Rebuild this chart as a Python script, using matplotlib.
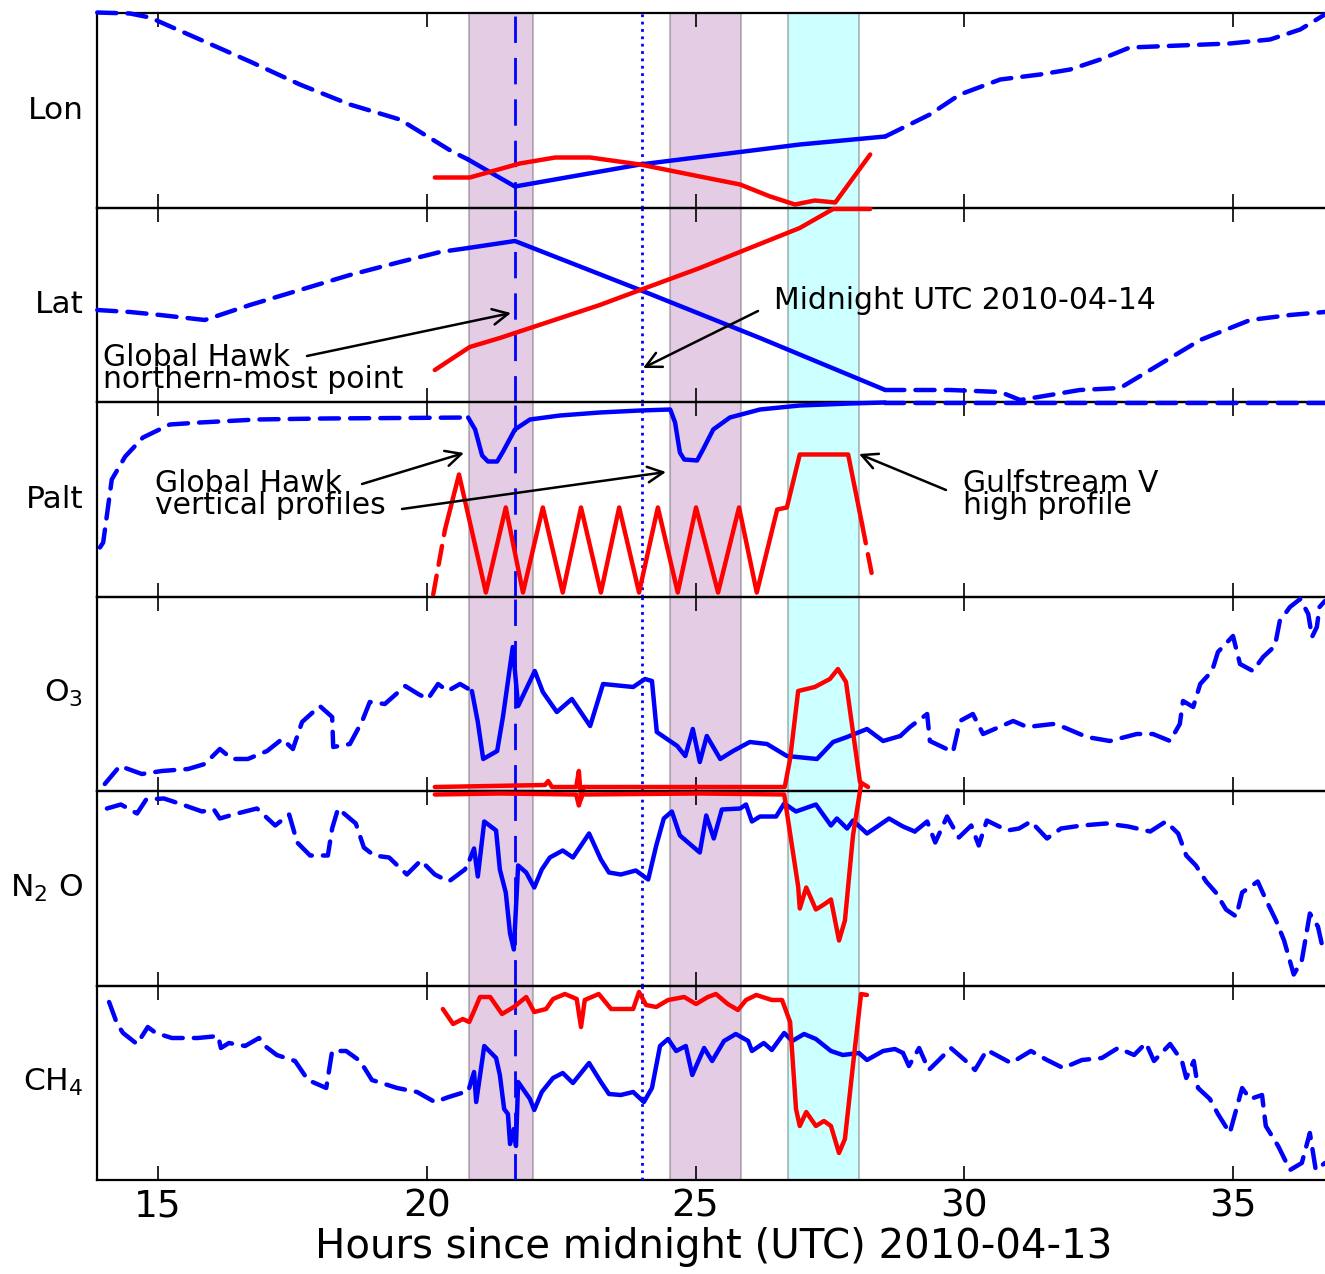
import matplotlib
matplotlib.use('Agg')
import matplotlib.pyplot as plt
import numpy as np

# ---------------- data (hours since midnight 2010-04-13, relative panel units 0..194) -------------
hour_ticks = [15, 20, 25, 30, 35]
panel_labels = ['Lon', 'Lat', 'Palt', 'O$_3$', 'N$_2$ O', 'CH$_4$']
x_label = 'Hours since midnight (UTC) 2010-04-13'

# Lon
lon_gh_t = [13.87, 14.48, 14.85, 15.78, 16.71, 17.64, 18.57, 19.50, 20.47, 20.77,
            21.64, 23.97, 26.20, 26.94, 28.53,
            29.36, 29.92, 30.67, 31.41, 31.97, 32.53, 33.08, 34.01, 34.94, 35.69, 36.25, 36.71]
lon_gh_v = [195, 194, 190, 168, 146, 123, 103, 88, 56, 48,
            21, 43, 58, 63, 71,
            93, 113, 128, 133, 138, 148, 160, 162, 164, 168, 178, 193]
lon_gv_t = [20.15, 20.80, 21.73, 22.39, 23.04, 23.97, 25.08, 25.83, 26.39, 26.85, 27.22, 27.60, 28.25]
lon_gv_v = [30, 30, 44, 50, 50, 43, 31, 23, 11, 3, 7, 5, 53]

# Lat
lat_gh_t = [13.87, 14.48, 15.04, 15.87, 16.71, 17.64, 18.57, 19.50, 20.25, 20.77,
            21.64, 23.97, 26.20, 28.53,
            29.74, 30.67, 31.04, 31.60, 32.15, 32.90, 33.46, 34.39, 35.32, 36.06, 36.71]
lat_gh_v = [92, 90, 87, 82, 97, 112, 127, 140, 150, 154,
            161, 112, 64, 12,
            12, 10, 2, 7, 12, 14, 32, 62, 82, 87, 90]
lat_gv_t = [20.15, 20.80, 21.36, 23.22, 23.97, 25.08, 26.01, 26.94, 27.56, 28.25]
lat_gv_v = [32, 55, 64, 97, 112, 134, 154, 174, 193, 193]

# Palt
palt_gh_t = [13.92, 13.98, 14.14, 14.39, 14.72, 15.22, 15.78, 16.84, 18.07, 19.50, 20.77,
             20.90, 21.03, 21.14, 21.31, 21.42, 21.64, 21.92, 22.48, 23.22, 23.97, 24.53,
             24.62, 24.71, 24.79, 25.03, 25.14, 25.33, 25.64, 26.20, 26.94, 27.87, 28.53, 36.71]
palt_gh_v = [49, 54, 117, 140, 159, 172, 174, 177, 178, 178.5, 179,
             167, 141, 135, 135, 145, 167, 177, 181, 184, 186, 187,
             174, 144, 137, 136, 147, 167, 179, 187, 191, 193, 194, 194]
palt_gv_t = [20.12, 20.34, 20.60, 21.10, 21.47, 21.79, 22.16, 22.53, 22.87, 23.24, 23.58,
             23.95, 24.30, 24.67, 25.01, 25.42, 25.81, 26.14, 26.52, 26.70, 26.94, 27.84,
             28.10, 28.30]
palt_gv_v = [2, 67, 122, 4, 89, 4, 89, 4, 89, 4, 89,
             4, 89, 4, 89, 4, 89, 4, 87, 89, 142, 142,
             72, 17]

# O3
o3_gh_t = [14.01, 14.29, 14.70, 15.07, 15.56, 15.87, 16.15, 16.38, 16.67, 17.03, 17.31, 17.51,
           17.68, 18.01, 18.24, 18.26, 18.57, 18.80, 18.94, 19.22, 19.60, 19.84, 20.02, 20.21,
           20.39, 20.62, 20.84,
           20.95, 21.05, 21.31, 21.42, 21.60, 21.70, 22.01, 22.16, 22.42, 22.70, 23.04, 23.28,
           23.84, 24.06, 24.19, 24.28, 24.66, 24.81, 24.95, 25.08, 25.21, 25.46, 25.70, 26.01,
           26.33, 26.70, 27.26, 27.56, 27.82, 28.19, 28.49, 28.81,
           28.99, 29.31, 29.36, 29.79, 29.92, 30.16, 30.35, 30.91, 31.17, 31.65, 31.84, 32.28,
           32.71, 33.21, 33.51, 33.83, 34.01, 34.07, 34.26, 34.39, 34.61, 34.72, 35.00, 35.13,
           35.37, 35.56, 35.78, 35.87, 36.06, 36.25, 36.40, 36.47, 36.56, 36.61, 36.71]
o3_gh_v = [7, 25, 17, 20, 22, 27, 42, 32, 32, 40, 52, 42,
           69, 85, 74, 44, 47, 70, 89, 87, 105, 97, 92, 107,
           100, 107, 100,
           69, 32, 40, 75, 144, 85, 120, 99, 79, 92, 65, 107,
           104, 112, 110, 59, 45, 35, 62, 29, 55, 32, 40, 49,
           47, 35, 32, 49, 54, 62, 50, 55,
           64, 77, 50, 39, 70, 77, 57, 70, 64, 67, 64, 54,
           50, 57, 57, 50, 67, 90, 84, 107, 120, 139, 155, 127,
           120, 134, 145, 170, 184, 192, 177, 154, 164, 184, 190]
o3_gv_t = [20.15, 22.20, 22.26, 22.33, 22.78, 22.83, 22.87, 22.92, 26.66, 26.76, 26.91,
           27.22, 27.50, 27.65, 27.80, 28.06, 28.21]
o3_gv_v = [4, 6, 10, 4, 4, 20, -8, 4, 4, 32, 100,
           104, 112, 122, 109, 9, 4]

# N2O
n2o_gh_t = [14.05, 14.31, 14.61, 14.78, 15.11, 15.45, 15.82, 16.04, 16.15, 16.40, 16.84, 17.18,
            17.44, 17.59, 17.83, 18.16, 18.24, 18.35, 18.68, 18.83, 19.02, 19.30, 19.63, 19.89,
            20.15, 20.41, 20.71, 20.80,
            20.88, 20.95, 21.07, 21.29, 21.36, 21.47, 21.55, 21.62, 21.70, 21.85, 22.00, 22.14,
            22.29, 22.53, 22.72, 23.02, 23.24, 23.39, 23.61, 23.89, 24.12, 24.27, 24.41, 24.56,
            24.71, 25.08, 25.20, 25.34, 25.49, 25.83, 25.94, 26.05, 26.20, 26.50, 26.65, 26.87,
            27.24, 27.52, 27.63, 27.82, 27.93, 28.19, 28.41, 28.60, 28.86, 29.08,
            29.31, 29.46, 29.68, 29.90, 30.13, 30.27, 30.42, 30.80, 31.02, 31.24, 31.54, 31.80,
            32.19, 32.64, 33.05, 33.46, 33.75, 33.98, 34.13, 34.31, 34.50, 34.68, 34.87, 35.06,
            35.17, 35.46, 35.61, 35.80, 35.95, 36.13, 36.28, 36.43, 36.58, 36.65, 36.71]
n2o_gh_v = [177, 181, 172, 186, 187, 181, 174, 176, 167, 171, 177, 160,
            171, 143, 130, 130, 157, 177, 162, 138, 130, 128, 111, 125,
            111, 104, 116, 126,
            137, 109, 164, 155, 116, 93, 52, 36, 120, 113, 98, 116,
            128, 135, 128, 152, 126, 113, 111, 115, 106, 140, 167, 174,
            150, 133, 170, 147, 176, 177, 181, 164, 169, 169, 182, 174,
            181, 160, 167, 157, 165, 152, 160, 167, 159, 154,
            164, 143, 169, 148, 160, 140, 165, 155, 157, 164, 147, 157,
            160, 162, 159, 154, 164, 152, 130, 120, 104, 93, 76, 69,
            93, 104, 86, 65, 45, 11, 25, 72, 59, 42, 45]
n2o_gv_t = [20.15, 21.36, 22.78, 22.83, 22.89, 25.08, 26.65, 26.91, 26.94, 27.06, 27.24,
            27.39, 27.52, 27.67, 27.78, 27.93, 28.08]
n2o_gv_v = [191, 192, 191, 180, 191, 192, 191, 99, 77, 98, 76,
            81, 86, 45, 65, 150, 201]

# CH4
ch4_gh_t = [14.09, 14.24, 14.35, 14.61, 14.81, 14.96, 15.26, 15.74, 16.12, 16.17, 16.32, 16.62,
            16.88, 16.99, 17.21, 17.55, 17.79, 18.13, 18.24, 18.50, 18.76, 18.98, 19.45, 19.82,
            20.15, 20.41, 20.71, 20.79,
            20.88, 20.92, 21.07, 21.29, 21.36, 21.44, 21.51, 21.55, 21.62, 21.66, 21.70, 21.92,
            22.00, 22.14, 22.35, 22.53, 22.72, 23.02, 23.24, 23.39, 23.61, 23.84, 24.04, 24.19,
            24.34, 24.49, 24.64, 24.82, 24.94, 25.16, 25.31, 25.53, 25.75, 25.98, 26.05, 26.27,
            26.42, 26.65, 26.80, 27.02, 27.24, 27.52, 27.74, 28.04, 28.19, 28.49, 28.71, 28.86,
            28.97, 29.16, 29.34, 29.53, 29.75, 30.01, 30.20, 30.42, 30.87, 31.24, 31.54, 31.84,
            32.19, 32.56, 32.86, 33.16, 33.38, 33.53, 33.83, 34.05, 34.13, 34.27, 34.35, 34.57,
            34.72, 34.94, 35.17, 35.32, 35.54, 35.61, 35.84, 36.06, 36.28, 36.43, 36.54, 36.71]
ch4_gh_v = [178, 156, 147, 136, 153, 147, 142, 142, 144, 132, 137, 134,
            142, 134, 125, 119, 100, 92, 129, 129, 119, 100, 92, 88,
            78, 83, 88, 92,
            108, 78, 134, 122, 105, 71, 66, 36, 51, 34, 98, 81,
            70, 88, 102, 107, 97, 117, 98, 86, 85, 88, 78, 92,
            134, 141, 129, 134, 105, 132, 119, 139, 146, 139, 129, 137,
            130, 147, 139, 146, 141, 129, 125, 127, 120, 129, 131, 127,
            114, 132, 110, 120, 132, 120, 110, 130, 117, 129, 120, 112,
            120, 122, 132, 125, 137, 119, 136, 119, 102, 119, 92, 81,
            66, 47, 92, 81, 85, 54, 34, 10, 17, 47, 10, 17]
ch4_gv_t = [20.30, 20.49, 20.67, 20.79, 20.88, 20.99, 21.18, 21.40, 21.62, 21.85, 22.00, 22.22,
            22.35, 22.57, 22.79, 22.87, 22.94, 23.20, 23.43, 23.84, 23.95, 24.08, 24.27, 24.49,
            24.79, 25.01, 25.23, 25.38, 25.60, 25.79, 25.94, 26.13, 26.42, 26.61, 26.76, 26.87,
            26.94, 27.06, 27.24, 27.39, 27.52, 27.67, 27.78, 27.93, 28.08, 28.19]
ch4_gv_v = [171, 156, 161, 158, 169, 183, 183, 166, 173, 183, 168, 171,
            181, 186, 181, 153, 180, 186, 171, 171, 188, 175, 173, 180,
            183, 176, 183, 186, 176, 170, 180, 185, 180, 180, 158, 71,
            54, 68, 54, 59, 54, 27, 41, 115, 186, 185]

# periods of interest
gh_profile_spans = [(20.79, 21.98), (24.53, 25.85)]
gv_profile_span = (26.72, 28.04)
gh_north_hour = 21.64
midnight_hour = 24.0

# ---------------- figure ----------------
W, H = 1325, 1274
plt.rcParams['font.family'] = ['DejaVu Sans']
fig = plt.figure(figsize=(W / 100, H / 100), dpi=100)

left_px, right_px, top_px, bot_px = 97, 1330, 13, 1180
ph = (bot_px - top_px) / 6.0
xlim = (15 + (left_px - 158) / 53.75, 15 + (right_px - 158) / 53.75)

series = [
    (lon_gh_t, lon_gh_v, (20.77, 28.53), lon_gv_t, lon_gv_v, None),
    (lat_gh_t, lat_gh_v, (20.77, 28.53), lat_gv_t, lat_gv_v, None),
    (palt_gh_t, palt_gh_v, (20.77, 28.53), palt_gv_t, palt_gv_v, (20.34, 28.10)),
    (o3_gh_t, o3_gh_v, (20.84, 28.81), o3_gv_t, o3_gv_v, None),
    (n2o_gh_t, n2o_gh_v, (20.80, 29.08), n2o_gv_t, n2o_gv_v, None),
    (ch4_gh_t, ch4_gh_v, (20.79, 28.86), ch4_gv_t, ch4_gv_v, None),
]

BLUE = '#0000ff'
RED = '#ff0000'
LW = 3.2


def plot_split(ax, t, v, win, color):
    t = np.asarray(t, float)
    v = np.asarray(v, float)
    if win is None:
        ax.plot(t, v, color=color, lw=LW, clip_on=False, zorder=4,
                solid_capstyle='round', solid_joinstyle='round')
        return
    a, b = win
    m_in = (t >= a - 1e-9) & (t <= b + 1e-9)
    m_l = t <= a + 1e-9
    m_r = t >= b - 1e-9
    ax.plot(t[m_in], v[m_in], color=color, lw=LW, clip_on=False, zorder=4,
            solid_capstyle='round', solid_joinstyle='round')
    for m in (m_l, m_r):
        if m.sum() > 1:
            ax.plot(t[m], v[m], color=color, lw=LW, clip_on=False, zorder=4,
                    dashes=(4.3, 2.5), dash_capstyle='round')


axes = []
for i, (label, (gt, gv, gwin, rt, rv, rwin)) in enumerate(zip(panel_labels, series)):
    y0 = top_px + i * ph
    ax = fig.add_axes([left_px / W, 1 - (y0 + ph) / H, (right_px - left_px) / W, ph / H])
    ax.patch.set_visible(False)
    axes.append(ax)
    ax.set_xlim(*xlim)
    ax.set_ylim(0, 194.5)
    for (a, b) in gh_profile_spans:
        ax.axvspan(a, b, facecolor=(0.5, 0, 0.5, 0.2), edgecolor=(0.3, 0.3, 0.3, 0.35), lw=1.5, zorder=1)
    ax.axvspan(*gv_profile_span, facecolor=(0, 1, 1, 0.2), edgecolor=(0.3, 0.3, 0.3, 0.35), lw=1.5, zorder=1)
    ax.axvline(gh_north_hour, color=BLUE, lw=2, dashes=(9.5, 5.4), zorder=3)
    ax.axvline(midnight_hour, color=BLUE, lw=2, linestyle=':', zorder=3)

    plot_split(ax, gt, gv, gwin, BLUE)
    plot_split(ax, rt, rv, rwin, RED)

    ax.set_yticks([])
    ax.set_xticks(hour_ticks)
    ax.tick_params(axis='x', direction='in', top=True, bottom=True, length=10, width=1.2,
                   labelsize=27, pad=6)
    for s in ax.spines.values():
        s.set_linewidth(1.6)
    ax.spines['right'].set_visible(False)
    if i < 5:
        ax.tick_params(axis='x', labelbottom=False)
    ax.set_ylabel(label, rotation=0, fontsize=22.5, ha='right', va='center')
    ax.yaxis.set_label_coords(-0.011, 0.5)

axes[-1].set_xlabel(x_label, fontsize=29, labelpad=2)


def px(x, y):
    return (x / W, 1 - y / H)


ann_fs = 21.5
arrow = dict(arrowstyle='->', lw=1.8, color='black', shrinkA=0, shrinkB=0, mutation_scale=28)
top_ax = axes[-1]


def add_arrow(tip, tail):
    top_ax.annotate('', xy=px(*tip), xycoords='figure fraction', xytext=px(*tail),
                    textcoords='figure fraction', arrowprops=arrow, annotation_clip=False,
                    zorder=10)


# Global Hawk northern-most point (y = baseline of last line)
fig.text(*px(103, 388), 'Global Hawk\nnorthern-most point', fontsize=ann_fs, ha='left',
         va='baseline', linespacing=0.68)
add_arrow((511, 313), (307, 356))

# Midnight
fig.text(*px(774, 309), 'Midnight UTC 2010-04-14', fontsize=ann_fs, ha='left', va='baseline')
add_arrow((643, 368), (758, 311))

# Global Hawk vertical profiles
fig.text(*px(155, 514), 'Global Hawk\nvertical profiles', fontsize=ann_fs, ha='left',
         va='baseline', linespacing=0.68)
add_arrow((464, 453), (362, 484))
add_arrow((666, 472), (402, 509))

# Gulfstream V high profile
fig.text(*px(963, 514), 'Gulfstream V\nhigh profile', fontsize=ann_fs, ha='left',
         va='baseline', linespacing=0.68)
add_arrow((859, 454), (946, 490))

fig.savefig('out.png', dpi=100)
